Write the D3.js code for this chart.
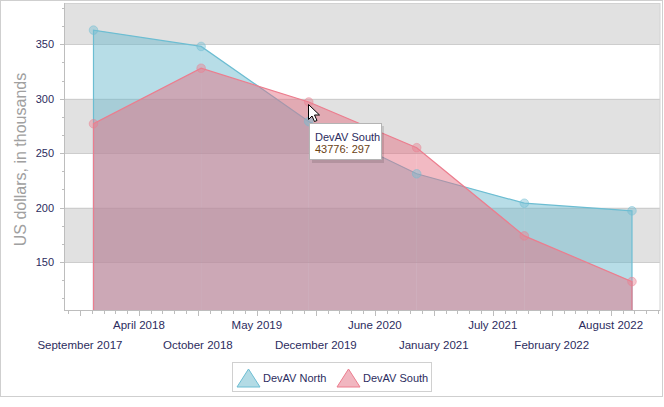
<!DOCTYPE html>
<html><head><meta charset="utf-8">
<script src="https://cdn.jsdelivr.net/npm/d3@7"></script>
<style>
html,body{margin:0;padding:0;background:#fff;}
svg{display:block;font-family:"Liberation Sans",Arial,sans-serif;}
</style></head>
<body>
<svg id="c" width="664" height="407"></svg>
<script>
// ---- data ----
const dates = [43046, 43411, 43776, 44142, 44507, 44872]; // Excel serial dates
const seriesNames = ["DevAV North", "DevAV South"];
const north = [363, 348, 279, 231, 204, 197];
const south = [277, 328, 297, 255, 174, 132];
const xMajorTicks = [43000, 43200, 43400, 43600, 43800, 44000, 44200, 44400, 44600, 44800];
const yMajorTicks = [150, 200, 250, 300, 350];
const yTitle = "US dollars, in thousands";
const tooltipSeries = 1, tooltipIndex = 2;

const colors = [
  {line:"#6cbdd2", fill:"rgb(104,184,204)", marker:"rgb(120,190,210)"},
  {line:"#ec7d8e", fill:"rgb(228,110,130)", marker:"rgb(232,130,146)"}
];

const svg = d3.select("#c");
const L = 64, R = 660, T = 3, B = 310;
const x = d3.scaleLinear().domain([42946, 44967]).range([L, R]);
const y = d3.scaleLinear().domain([105.9, 387.9]).range([B, T]);

const serialToDate = s => new Date(Date.UTC(1899, 11, 30) + s * 86400000);
const fmt = d3.utcFormat("%B %Y");

// outer border
svg.append("rect").attr("x",0.5).attr("y",0.5).attr("width",662).attr("height",396)
  .attr("fill","#fff").attr("stroke","#cfcfcf");

// bands
const yEdges = [y.domain()[0], ...yMajorTicks, y.domain()[1]];
for (let i = 0; i < yEdges.length - 1; i++) {
  if (i % 2 === 1) {
    svg.append("rect").attr("x", L).attr("width", R - L)
      .attr("y", y(yEdges[i+1])).attr("height", y(yEdges[i]) - y(yEdges[i+1]))
      .attr("fill", "#e1e1e1");
  }
}
// gridlines
svg.append("g").selectAll("line").data(yMajorTicks).join("line")
  .attr("x1", L).attr("x2", R)
  .attr("y1", d => Math.round(y(d)) + 0.5).attr("y2", d => Math.round(y(d)) + 0.5)
  .attr("stroke", "#cdcdcd");
// plot border
svg.append("rect").attr("x", L + 0.5).attr("y", T + 0.5).attr("width", R - L - 0.5).attr("height", B - T)
  .attr("fill", "none").attr("stroke", "#d2d2d2");

// areas, drawn per segment
const baseV = y.domain()[0];
[north, south].forEach((vals, si) => {
  const g = svg.append("g");
  for (let i = 0; i < vals.length - 1; i++) {
    const seg = [[dates[i], vals[i]], [dates[i+1], vals[i+1]]];
    g.append("path")
      .attr("d", d3.area().x(d => x(d[0])).y0(y(baseV)).y1(d => y(d[1]))(seg))
      .attr("fill", colors[si].fill).attr("fill-opacity", 0.48);
  }
  const pts = dates.map((d, i) => [x(d), y(vals[i])]);
  const outline = [[pts[0][0], y(baseV)], ...pts, [pts[pts.length-1][0], y(baseV)]];
  g.append("path").attr("d", d3.line()(outline))
    .attr("fill", "none").attr("stroke", colors[si].line).attr("stroke-width", 1.2);
});
// markers
[north, south].forEach((vals, si) => {
  svg.append("g").selectAll("circle").data(vals).join("circle")
    .attr("cx", (d, i) => x(dates[i])).attr("cy", d => y(d)).attr("r", 4.3)
    .attr("fill", colors[si].marker).attr("fill-opacity", 0.45)
    .attr("stroke", colors[si].line).attr("stroke-opacity", 0.45).attr("stroke-width", 1);
});

// axes lines
svg.append("line").attr("x1", L + 0.5).attr("x2", L + 0.5).attr("y1", T).attr("y2", B + 1)
  .attr("stroke", "#bdbdbd");
svg.append("line").attr("x1", L).attr("x2", R).attr("y1", B + 0.5).attr("y2", B + 0.5)
  .attr("stroke", "#bdbdbd");

// x ticks
const xMinor = d3.range(42960, 44967, 40).filter(v => !xMajorTicks.includes(v));
svg.append("g").selectAll("line").data(xMinor).join("line")
  .attr("x1", d => Math.round(x(d)) + 0.5).attr("x2", d => Math.round(x(d)) + 0.5)
  .attr("y1", B + 1).attr("y2", B + 4).attr("stroke", "#bdbdbd");
svg.append("g").selectAll("line").data(xMajorTicks).join("line")
  .attr("x1", d => Math.round(x(d)) + 0.5).attr("x2", d => Math.round(x(d)) + 0.5)
  .attr("y1", B + 1).attr("y2", B + 6).attr("stroke", "#bdbdbd");
svg.append("g").selectAll("text").data(xMajorTicks).join("text")
  .attr("x", d => x(d)).attr("y", (d, i) => i % 2 === 0 ? 349 : 329)
  .attr("text-anchor", "middle").attr("font-size", "11.5px").attr("fill", "#2c2c5e")
  .text(d => fmt(serialToDate(d)));

// y ticks
const yMinor = [];
for (let v = 150 - 50/3 * 2; v < y.domain()[1]; v += 50/3) {
  if (v > y.domain()[0] && !yMajorTicks.some(t => Math.abs(t - v) < 0.01)) yMinor.push(v);
}
svg.append("g").selectAll("line").data(yMinor).join("line")
  .attr("x1", L - 2).attr("x2", L)
  .attr("y1", d => Math.round(y(d)) + 0.5).attr("y2", d => Math.round(y(d)) + 0.5)
  .attr("stroke", "#bdbdbd");
svg.append("g").selectAll("line").data(yMajorTicks).join("line")
  .attr("x1", L - 4).attr("x2", L)
  .attr("y1", d => Math.round(y(d)) + 0.5).attr("y2", d => Math.round(y(d)) + 0.5)
  .attr("stroke", "#bdbdbd");
svg.append("g").selectAll("text").data(yMajorTicks).join("text")
  .attr("x", 54).attr("y", d => y(d) + 4)
  .attr("text-anchor", "end").attr("font-size", "11px").attr("fill", "#2c2c5e")
  .text(d => d);

// y title
svg.append("text").attr("transform", `translate(26,${(T + B) / 2 + 3}) rotate(-90)`)
  .attr("text-anchor", "middle").attr("font-size", "16px").attr("fill", "#a0a0a0")
  .text(yTitle);

// legend
const lg = svg.append("g");
lg.append("rect").attr("x", 232.5).attr("y", 362.5).attr("width", 199).attr("height", 29)
  .attr("fill", "#fff").attr("stroke", "#d0d0d0");
const legX = [237, 337];
seriesNames.forEach((n, i) => {
  const x0 = legX[i];
  lg.append("path").attr("d", `M${x0},387 L${x0 + 11.5},369 L${x0 + 23},387 Z`)
    .attr("fill", colors[i].fill).attr("fill-opacity", 0.5)
    .attr("stroke", colors[i].line).attr("stroke-width", 1);
  lg.append("text").attr("x", x0 + 26).attr("y", 381.5).attr("font-size", "11px")
    .attr("fill", "#2c2c5e").text(n);
});

// tooltip
const tx = x(dates[tooltipIndex]), ty = y([north, south][tooltipSeries][tooltipIndex]);
const tg = svg.append("g").attr("transform", `translate(${Math.round(tx)},${Math.round(ty) + 21})`);
tg.append("rect").attr("x", 3).attr("y", 3).attr("width", 72).attr("height", 37)
  .attr("fill", "#000").attr("fill-opacity", 0.12);
tg.append("rect").attr("x", 0.5).attr("y", 0.5).attr("width", 72).attr("height", 36)
  .attr("fill", "#fff").attr("stroke", "#b4b4b4");
tg.append("text").attr("x", 6).attr("y", 17.5).attr("font-size", "11px").attr("fill", "#2c2c5e")
  .text(seriesNames[tooltipSeries]);
tg.append("text").attr("x", 6).attr("y", 30).attr("font-size", "11px").attr("fill", "#6a4214")
  .text(`${dates[tooltipIndex]}: ${[north, south][tooltipSeries][tooltipIndex]}`);

// mouse cursor
svg.append("path")
  .attr("transform", `translate(${Math.round(tx) - 0.5},${Math.round(ty) + 2.5})`)
  .attr("d", "M0,0 L0,15 L3.5,11.5 L6,17 L8.5,16 L6,10.5 L11,10.5 Z")
  .attr("fill", "#fff").attr("stroke", "#000").attr("stroke-width", 1).attr("stroke-linejoin", "round");
</script>
</body></html>
